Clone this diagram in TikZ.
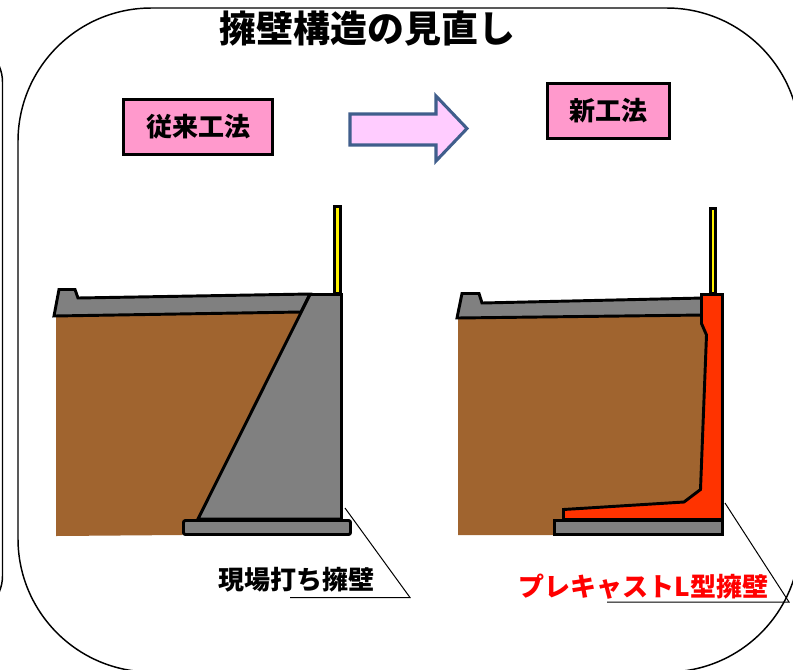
\documentclass[tikz,border=0pt]{standalone}
\usepackage{fontspec}
\newfontfamily\jp{Noto Sans CJK JP}
\definecolor{soil}{RGB}{160,100,47}
\definecolor{concrete}{RGB}{128,128,128}
\definecolor{precast}{RGB}{255,51,0}
\definecolor{labelpink}{RGB}{255,153,204}
\definecolor{arrowfill}{RGB}{255,204,255}
\definecolor{arrowedge}{RGB}{64,94,140}
\tikzset{
  frame/.style={draw=black, line width=1.1pt},
  methodbox/.style={draw=black, fill=labelpink, line width=2.3pt, inner sep=0pt,
    font=\jp\bfseries\fontsize{19.5}{22}\selectfont},
  outline/.style={draw=black, line width=2.2pt, line join=miter},
  ground/.style={fill=soil},
  slab/.style={outline, fill=concrete},
  lwall/.style={outline, fill=precast},
  post/.style={draw=black, fill=yellow, line width=1.9pt},
  leader/.style={draw=black, line width=0.75pt},
  caption/.style={inner sep=0pt, font=\jp\bfseries\fontsize{19.5}{22}\selectfont},
}
\begin{document}
\begin{tikzpicture}[x=0.75pt, y=-0.75pt]
\useasboundingbox (0,0) rectangle (793,669);
\clip (0,0) rectangle (793,669);

% frames
\draw[frame, rounded corners=30] (-60,42) -- (2.5,42) -- (2.5,616) -- (-60,616);
\draw[frame, rounded corners=100] (18,8) rectangle (800,672);

% heading
\node[caption, font=\jp\bfseries\fontsize{27.7}{30}\selectfont] (title) at (367.5,28.5) {擁壁構造の見直し};

% method labels
\node[methodbox, minimum width=111.75pt, minimum height=41.25pt] (oldmethod) at (198,127) {従来工法};
\node[methodbox, minimum width=91.5pt, minimum height=41.25pt] (newmethod) at (608.5,111) {新工法};

% transition arrow
\draw[fill=arrowfill, draw=arrowedge, line width=2.3pt, line join=miter]
  (350,114) -- (436,114) -- (436,96) -- (467,128.5) -- (436,161) -- (436,145) -- (350,145) -- cycle;

% ---- cast-in-place retaining wall ----
\fill[ground] (56,315) -- (305,311) -- (200,520) -- (182,535) -- (56,536) -- cycle;
\path[slab] (54,316) -- (59,289.5) -- (75,289.5) -- (78,298) -- (310,294) -- (301,312) -- cycle;
\path[slab] (310,294.5) -- (341.5,294.5) -- (341.5,519) -- (198,519) -- cycle;
\path[slab, rounded corners=1.5pt] (183.5,520.5) rectangle (350.5,534.5);
\path[post] (334.5,206.5) rectangle (340.5,293.5);

% ---- precast L-shaped retaining wall ----
\fill[ground] (458,318) -- (705,315) -- (705,515) -- (553,535) -- (458,535) -- cycle;
\path[slab] (457,318) -- (462,293.5) -- (479,293.5) -- (482,303) -- (703,298) -- (703,315) -- cycle;
\path[lwall] (701.5,294.5) -- (722.5,294.5) -- (722.5,519.5) -- (563.5,519.5) -- (563.5,509.5)
  -- (684,502) -- (700.5,489.5) -- (706.5,335) -- (701.5,323.5) -- cycle;
\path[slab] (554.5,520.5) rectangle (722.5,534.5);
\path[post] (710.3,208.3) rectangle (715.7,293.5);

% callouts
\coordinate (ltip) at (345,508);
\coordinate (lknee) at (410,597.5);
\coordinate (lend) at (290,597.5);
\draw[leader] (ltip) -- (lknee) -- (lend);
\node[caption] (castlabel) at (296,579.5) {現場打ち擁壁};

\coordinate (rtip) at (725,503);
\coordinate (rknee) at (789,602);
\coordinate (rend) at (607,602);
\draw[leader] (rtip) -- (rknee) -- (rend);
\node[caption, text=red] (precastlabel) at (643.5,587) {プレキャストL型擁壁};
\end{tikzpicture}
\end{document}
